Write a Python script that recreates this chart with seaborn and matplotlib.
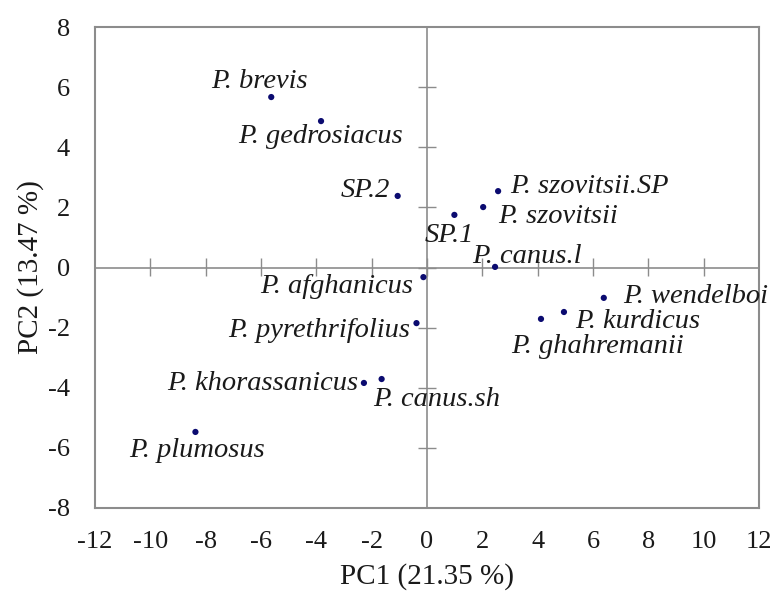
import numpy as np
import pandas as pd
import matplotlib
matplotlib.use("Agg")
import matplotlib.pyplot as plt
import seaborn as sns

species = ["P. brevis", "P. gedrosiacus", "SP.2", "SP.1", "P. szovitsii",
           "P. szovitsii.SP", "P. canus.l", "P. afghanicus", "P. pyrethrifolius",
           "P. wendelboi", "P. kurdicus", "P. ghahremanii", "P. khorassanicus",
           "P. canus.sh", "P. plumosus"]
pc1 = [-5.63, -3.83, -1.06, 0.99, 2.03, 2.57, 2.46, -0.13, -0.38,
       6.39, 4.95, 4.12, -2.28, -1.64, -8.37]
pc2 = [5.67, 4.87, 2.38, 1.75, 2.01, 2.54, 0.02, -0.32, -1.85,
       -1.01, -1.48, -1.71, -3.84, -3.71, -5.47]

# label placement: (dx px, dy px to baseline, alignment)
label_pos = {
    "P. brevis": (-12, 9, "center"),
    "P. gedrosiacus": (-1, -22, "center"),
    "SP.2": (-8, -1, "right"),
    "SP.1": (-5, -27, "center"),
    "P. szovitsii": (15, -16, "left"),
    "P. szovitsii.SP": (12, -2, "left"),
    "P. canus.l": (-23, 4, "left"),
    "P. afghanicus": (-10, -16, "right"),
    "P. pyrethrifolius": (-6, -14, "right"),
    "P. wendelboi": (19, -5, "left"),
    "P. kurdicus": (11, -16, "left"),
    "P. ghahremanii": (-30, -34, "left"),
    "P. khorassanicus": (-6, -7, "right"),
    "P. canus.sh": (-8, -27, "left"),
    "P. plumosus": (2, -25, "center"),
}

df = pd.DataFrame({"species": species, "PC1": pc1, "PC2": pc2})

sns.set_style("white")
plt.rcParams["font.family"] = ["Liberation Serif", "DejaVu Serif"]
plt.rcParams["axes.unicode_minus"] = False

dpi = 100
fig = plt.figure(figsize=(7.74, 5.95), dpi=dpi)
ax = fig.add_axes([95 / 774, 1 - 508 / 595, 664 / 774, 481 / 595])

gray = "#8c8c8c"
ax.axhline(0, color=gray, lw=1.2, zorder=1)
ax.axvline(0, color=gray, lw=1.2, zorder=1)

sns.scatterplot(data=df, x="PC1", y="PC2", ax=ax, color="#0b0b70",
                s=20, edgecolor="none", zorder=3)

px = 72 / dpi
for name, x, y in zip(species, pc1, pc2):
    dx, dy, ha = label_pos[name]
    ax.annotate(name, (x, y), xytext=(dx * px, dy * px),
                textcoords="offset points", ha=ha, va="baseline",
                fontsize=20.5, fontstyle="italic", color="#1a1a1a")

ax.set_xlim(-12, 12)
ax.set_ylim(-8, 8)
ax.set_xticks(np.arange(-12, 13, 2))
ax.set_yticks(np.arange(-8, 9, 2))
ax.tick_params(length=0, labelsize=19, colors="#1a1a1a")
ax.tick_params(axis="x", pad=16.5)
ax.tick_params(axis="y", pad=18)
for sp in ax.spines.values():
    sp.set_color(gray)
    sp.set_linewidth(1.5)

# cross ticks along the zero lines
sx = ax.secondary_xaxis(0.5)
sx.set_xticks(np.arange(-10, 11, 2))
sx.tick_params(direction="inout", length=13, width=1.0, color=gray,
               labelbottom=False, labeltop=False)
sx.spines["bottom"].set_visible(False)
sx.spines["top"].set_visible(False)
sy = ax.secondary_yaxis(0.5)
sy.set_yticks(np.arange(-6, 7, 2))
sy.tick_params(direction="inout", length=13, width=1.0, color=gray,
               labelleft=False, labelright=False)
sy.spines["left"].set_visible(False)
sy.spines["right"].set_visible(False)

ax.set_xlabel("PC1 (21.35 %)", fontsize=21, color="#1a1a1a", labelpad=7)
ax.set_ylabel("PC2 (13.47 %)", fontsize=21, color="#1a1a1a", labelpad=3)

fig.savefig("out.png", dpi=dpi)
